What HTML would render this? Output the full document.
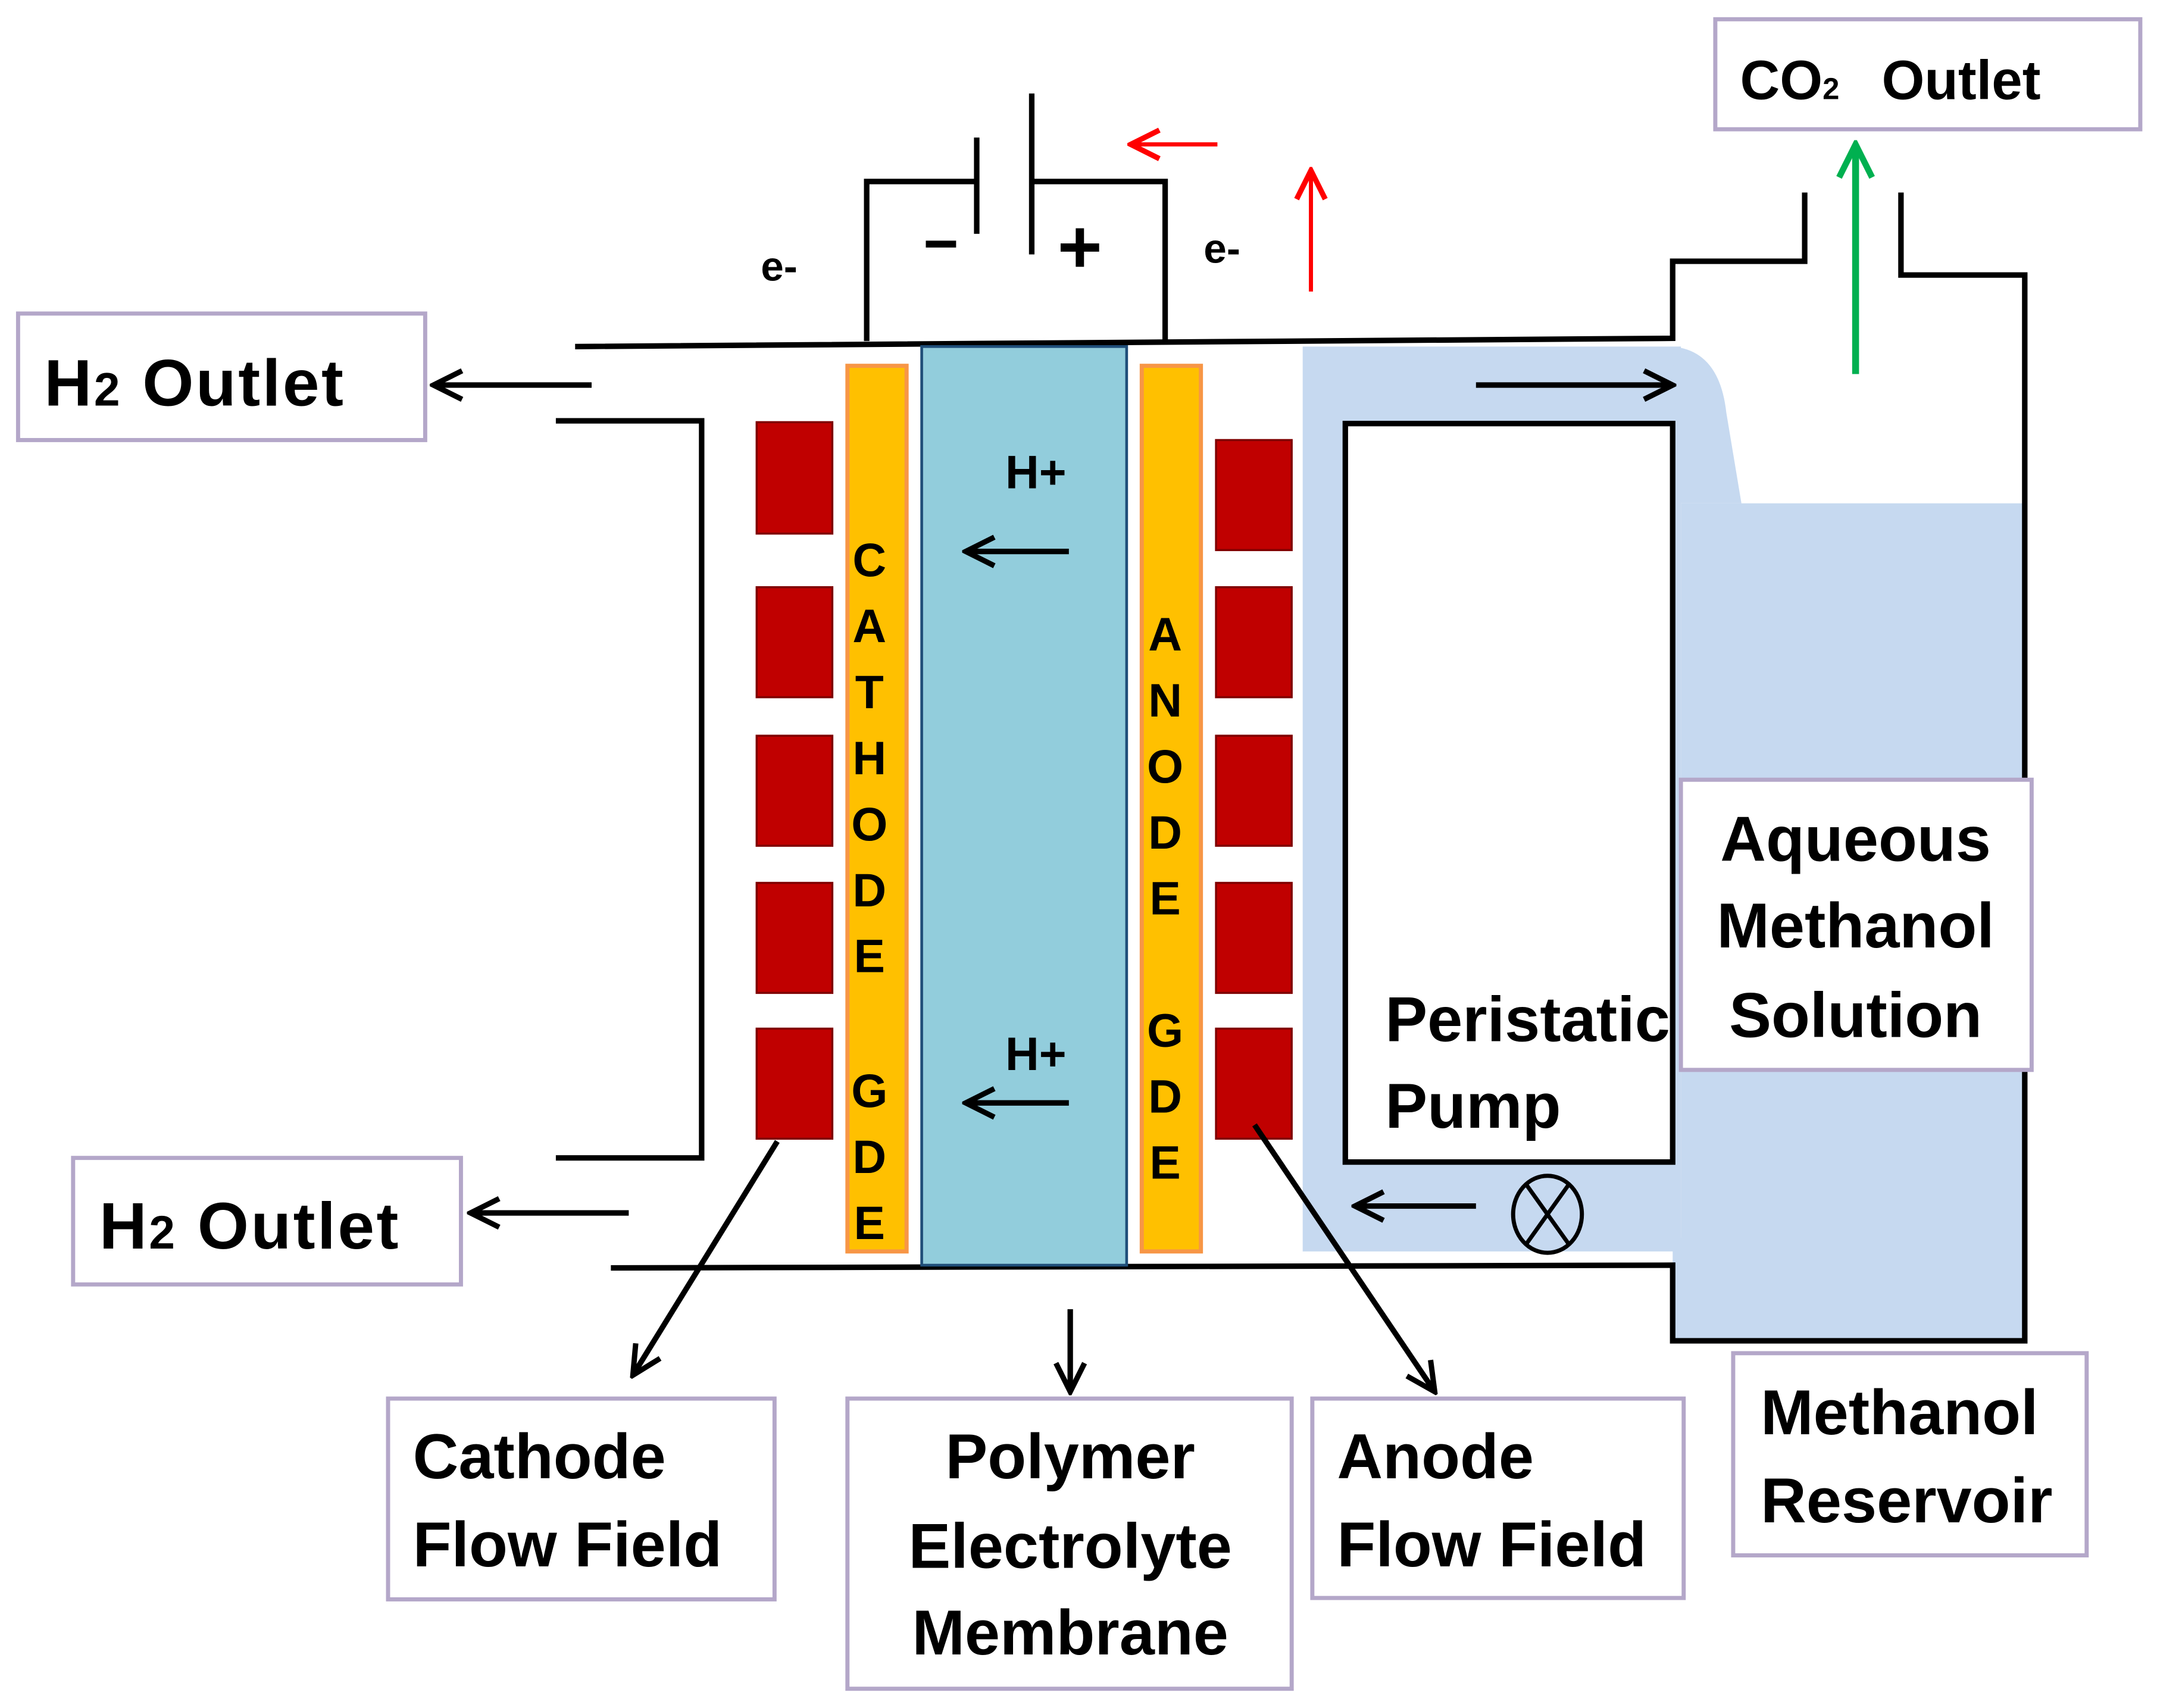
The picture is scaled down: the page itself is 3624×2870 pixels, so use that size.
<!DOCTYPE html>
<html><head><meta charset="utf-8"><style>
html,body{margin:0;padding:0;background:#fff;}
svg{display:block;}
text{font-family:"Liberation Sans",sans-serif;font-weight:bold;fill:#000;}
</style></head><body>
<svg width="3624" height="2870" viewBox="0 0 1568 1242" xmlns="http://www.w3.org/2000/svg">
<defs>
<marker id="ak" viewBox="0 0 20 20" markerWidth="26" markerHeight="26" refX="18" refY="10" orient="auto" markerUnits="userSpaceOnUse"><path d="M2,2 L18,10 L2,18" fill="none" stroke="#000" stroke-width="3"/></marker>
<marker id="ar" viewBox="0 0 20 20" markerWidth="26" markerHeight="26" refX="18" refY="10" orient="auto" markerUnits="userSpaceOnUse"><path d="M2,2 L18,10 L2,18" fill="none" stroke="#ff0000" stroke-width="3"/></marker>
<marker id="ag" viewBox="0 0 20 20" markerWidth="30" markerHeight="30" refX="18" refY="10" orient="auto" markerUnits="userSpaceOnUse"><path d="M2,2 L18,10 L2,18" fill="none" stroke="#00b050" stroke-width="3"/></marker>
</defs>
<rect width="1568" height="1242" fill="#fff"/>
<rect x="947" y="252" width="275" height="658" fill="#c6d9f0"/>
<rect x="1222" y="366" width="250" height="608" fill="#c6d9f0"/>
<path d="M1216,252 Q1250,255 1255,300 L1266,366 L1222,366 Z" fill="#c6d9f0"/>
<rect x="1216" y="900" width="10" height="75" fill="#c6d9f0"/>
<rect x="978" y="308" width="238" height="537" fill="#fff" stroke="#000" stroke-width="4"/>
<g fill="none" stroke="#000" stroke-width="4">
<path d="M418,252 L1216,246 L1216,190 L1312,190 L1312,140"/>
<path d="M1382,140 L1382,200 L1472,200 L1472,975 L1216,975 L1216,920 L444,922"/>
<path d="M404,306 L510,306 L510,842 L404,842"/>
<path d="M630,248 L630,132 L710,132"/>
<path d="M710,100 L710,170"/>
<path d="M750,68 L750,185"/>
<path d="M750,132 L847,132 L847,248"/>
</g>
<rect x="673" y="175" width="22" height="5" fill="#000"/>
<rect x="771" y="177" width="28" height="6" fill="#000"/>
<rect x="782" y="166" width="6" height="28" fill="#000"/>
<text x="553" y="204" font-size="30">e-</text>
<text x="875" y="191" font-size="30">e-</text>
<rect x="670" y="252" width="149" height="668" fill="#92cddc" stroke="#1f4e79" stroke-width="2"/>
<rect x="616" y="266" width="43" height="644" fill="#ffc000" stroke="#f79646" stroke-width="3"/>
<rect x="830" y="266" width="43" height="644" fill="#ffc000" stroke="#f79646" stroke-width="3"/>
<g font-size="34" text-anchor="middle">
<text x="632" y="419">C</text><text x="632" y="467">A</text><text x="632" y="515">T</text><text x="632" y="563">H</text><text x="632" y="611">O</text><text x="632" y="659">D</text><text x="632" y="707">E</text>
<text x="632" y="805">G</text><text x="632" y="853">D</text><text x="632" y="901">E</text>
<text x="847" y="473">A</text><text x="847" y="521">N</text><text x="847" y="569">O</text><text x="847" y="617">D</text><text x="847" y="665">E</text>
<text x="847" y="761">G</text><text x="847" y="809">D</text><text x="847" y="857">E</text>
</g>
<g fill="#c00000" stroke="#7f0000" stroke-width="1.5">
<rect x="550" y="307" width="55" height="81"/><rect x="550" y="427" width="55" height="80"/><rect x="550" y="535" width="55" height="80"/><rect x="550" y="642" width="55" height="80"/><rect x="550" y="748" width="55" height="80"/>
<rect x="884" y="320" width="55" height="80"/><rect x="884" y="427" width="55" height="80"/><rect x="884" y="535" width="55" height="80"/><rect x="884" y="642" width="55" height="80"/><rect x="884" y="748" width="55" height="80"/>
</g>
<text x="753" y="355" font-size="34" text-anchor="middle">H+</text>
<text x="753" y="778" font-size="34" text-anchor="middle">H+</text>
<g stroke="#000" stroke-width="4" fill="none" marker-end="url(#ak)">
<line x1="777" y1="401" x2="702" y2="401"/>
<line x1="777" y1="802" x2="702" y2="802"/>
<line x1="430" y1="280" x2="315" y2="280"/>
<line x1="457" y1="882" x2="342" y2="882"/>
<line x1="1073" y1="280" x2="1216" y2="280"/>
<line x1="1073" y1="877" x2="985" y2="877"/>
<line x1="565" y1="830" x2="460" y2="1000"/>
<line x1="778" y1="952" x2="778" y2="1012"/>
<line x1="912" y1="818" x2="1043" y2="1012"/>
</g>
<line x1="885" y1="105" x2="822" y2="105" stroke="#ff0000" stroke-width="3" marker-end="url(#ar)"/>
<line x1="953" y1="212" x2="953" y2="124" stroke="#ff0000" stroke-width="3" marker-end="url(#ar)"/>
<line x1="1349" y1="272" x2="1349" y2="105" stroke="#00b050" stroke-width="5" marker-end="url(#ag)"/>
<ellipse cx="1125" cy="883" rx="25" ry="28" fill="none" stroke="#000" stroke-width="3"/>
<path d="M1110,862 L1140,904 M1140,862 L1110,904" stroke="#000" stroke-width="3"/>
<svg x="978" y="700" width="236" height="150" overflow="hidden"><text x="29" y="57" font-size="46">Peristatic</text><text x="29" y="120" font-size="46">Pump</text></svg>
<g fill="#fff" stroke="#b4a7c9" stroke-width="3">
<rect x="13" y="228" width="296" height="92"/>
<rect x="53" y="842" width="282" height="92"/>
<rect x="1247" y="14" width="309" height="80"/>
<rect x="1222" y="567" width="255" height="211"/>
<rect x="282" y="1017" width="281" height="146"/>
<rect x="616" y="1017" width="323" height="211"/>
<rect x="954" y="1017" width="270" height="145"/>
<rect x="1260" y="984" width="257" height="147"/>
</g>
<text x="32" y="295" font-size="48" letter-spacing="1.5">H<tspan font-size="34">2</tspan> Outlet</text>
<text x="72" y="908" font-size="48" letter-spacing="1.5">H<tspan font-size="34">2</tspan> Outlet</text>
<text x="1265" y="72" font-size="40">CO<tspan font-size="22">2</tspan></text>
<text x="1368" y="72" font-size="40">Outlet</text>
<g font-size="46" text-anchor="middle">
<text x="1349" y="626">Aqueous</text><text x="1349" y="689">Methanol</text><text x="1349" y="754">Solution</text>
<text x="778" y="1075">Polymer</text><text x="778" y="1140">Electrolyte</text><text x="778" y="1203">Membrane</text>
</g>
<g font-size="46">
<text x="300" y="1075">Cathode</text><text x="300" y="1139">Flow Field</text>
<text x="972" y="1075">Anode</text><text x="972" y="1139">Flow Field</text>
<text x="1280" y="1043">Methanol</text><text x="1280" y="1107">Reservoir</text>
</g>
</svg>
</body></html>
